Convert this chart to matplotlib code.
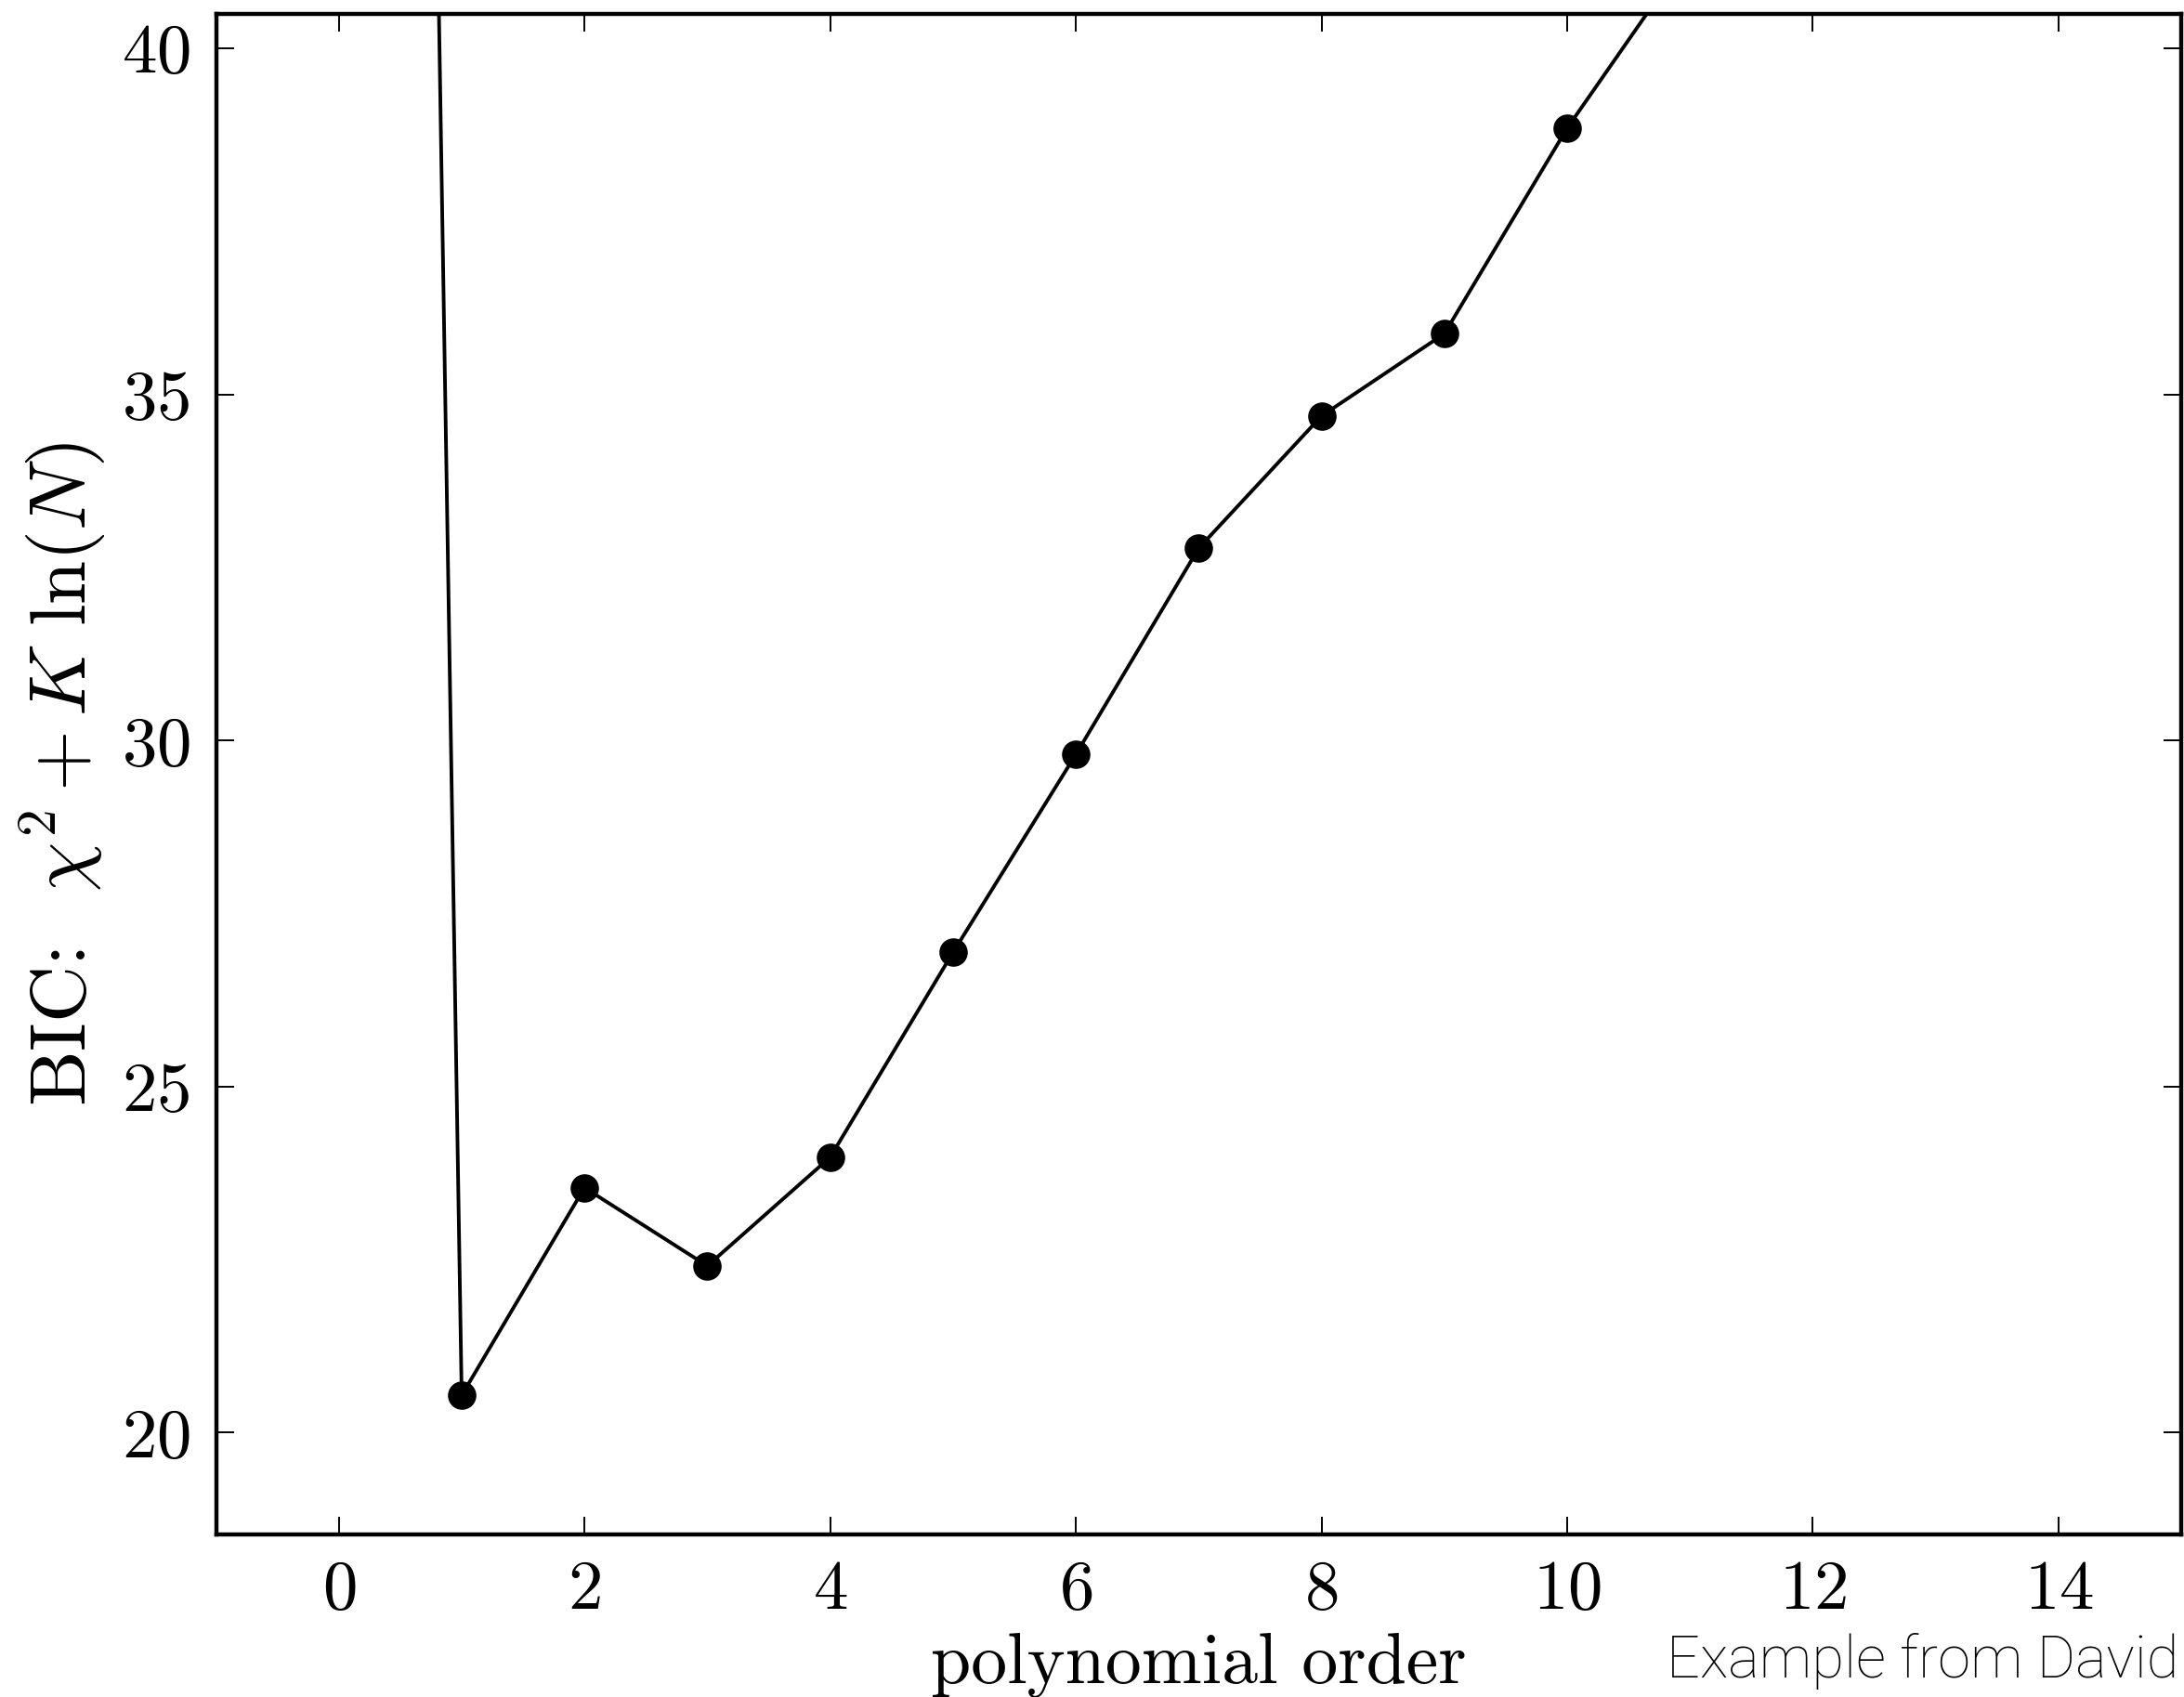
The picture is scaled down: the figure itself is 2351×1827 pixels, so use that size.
import matplotlib
matplotlib.use("Agg")
import matplotlib.pyplot as plt

# BIC values per polynomial order
orders = [0, 1, 2, 3, 4, 5, 6, 7, 8, 9, 10, 11]
bic = [128.4, 20.54, 23.54, 22.41, 23.98, 26.94, 29.80, 32.78, 34.69, 35.88, 38.85, 41.4]

xticks = [0, 2, 4, 6, 8, 10, 12, 14]
yticks = [20, 25, 30, 35, 40]

plt.rcParams["font.family"] = "serif"
plt.rcParams["font.serif"] = ["cmr10"]
plt.rcParams["mathtext.fontset"] = "cm"
plt.rcParams["axes.formatter.use_mathtext"] = True

fig = plt.figure(figsize=(23.51, 18.27), dpi=100)
ax = fig.add_axes([0.0989, 0.0958, 0.8999, 0.896])

ax.plot(orders, bic, color="black", lw=2.8, marker="o", markersize=21, zorder=3)

ax.set_xlim(-1, 15)
ax.set_ylim(18.53, 40.5)
ax.set_xticks(xticks)
ax.set_yticks(yticks)
ax.tick_params(direction="in", length=14, width=1.4, labelsize=54,
               top=True, right=True)
ax.tick_params(axis="x", pad=20)
ax.tick_params(axis="y", pad=20)
for s in ax.spines.values():
    s.set_linewidth(3.2)

ax.set_xlabel("polynomial order", fontsize=56, labelpad=8)
ax.set_ylabel(r"BIC:  $\chi^2 + K\ \ln(N)$", fontsize=61, labelpad=10)

fig.text(0.763, 0.021, "Example from David", family=["Roboto", "DejaVu Sans"],
         fontweight="light", color="black", fontsize=45.5, ha="left", va="center")

fig.savefig("out.png", dpi=100, facecolor="white")
